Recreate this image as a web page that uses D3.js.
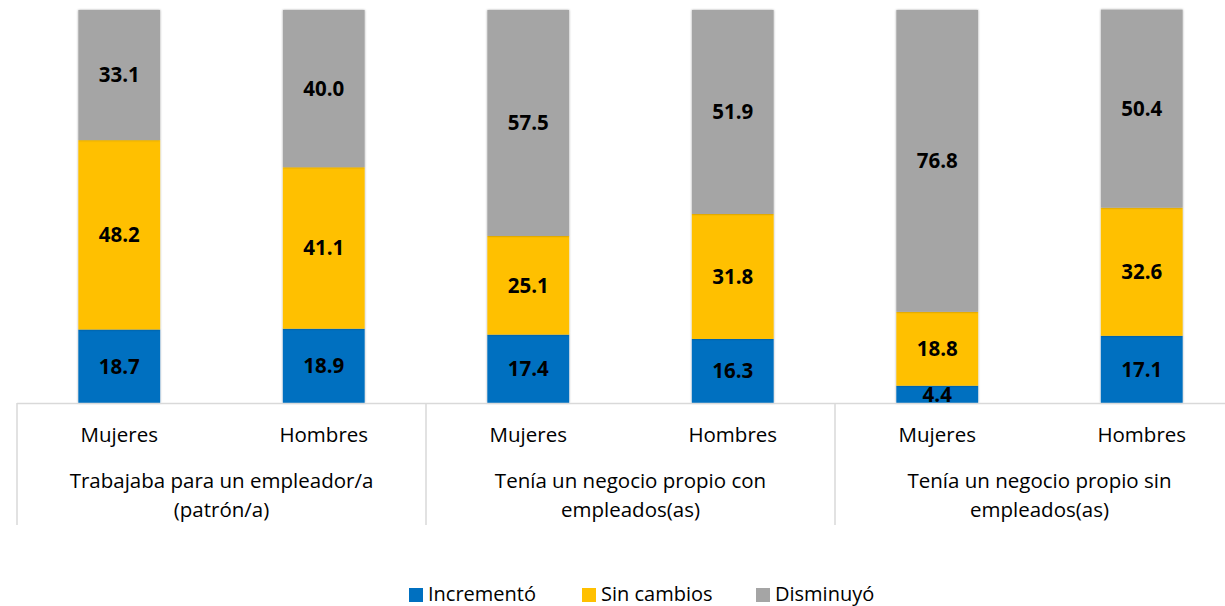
<!DOCTYPE html>
<meta charset="utf-8">
<script src="https://d3js.org/d3.v7.min.js"></script>
<style>
  body { margin: 0; background: #fff; }
  text { font-family: "Open Sans", "Noto Sans", sans-serif; }
</style>
<body>
<div id="my_dataviz"></div>
<script>
// data
var groups = ["Trabajaba para un empleador/a|(patrón/a)",
              "Tenía un negocio propio con|empleados(as)",
              "Tenía un negocio propio sin|empleados(as)"];
var sexes = ["Mujeres", "Hombres"];
var seriesNames = ["Incrementó", "Sin cambios", "Disminuyó"];
var colors = ["#0070C0", "#FFC000", "#A5A5A5"];
var incremento = [18.7, 18.9, 17.4, 16.3, 4.4, 17.1];
var sinCambios = [48.2, 41.1, 25.1, 31.8, 18.8, 32.6];
var disminuyo  = [33.1, 40.0, 57.5, 51.9, 76.8, 50.4];

var width = 1225, height = 606;
var svg = d3.select("#my_dataviz").append("svg")
  .attr("width", width).attr("height", height);

var defs = svg.append("defs");
var f = defs.append("filter").attr("id", "shadow")
  .attr("x", "-10%").attr("y", "-10%").attr("width", "120%").attr("height", "120%");
f.append("feDropShadow").attr("dx", 0).attr("dy", 0).attr("stdDeviation", 1.2)
  .attr("flood-color", "#000").attr("flood-opacity", 0.35);

// build rows
var rows = [];
groups.forEach(function(g, gi) {
  sexes.forEach(function(s, si) {
    var i = gi * 2 + si;
    rows.push({group: g, sex: s,
      "Incrementó": incremento[i], "Sin cambios": sinCambios[i], "Disminuyó": disminuyo[i]});
  });
});

var x0 = d3.scaleBand().domain(groups).range([17, 1244]);
var x1 = d3.scaleBand().domain(sexes).range([0, x0.bandwidth()]).paddingInner(0.6).paddingOuter(0.3);
var y = d3.scaleLinear().domain([0, 100]).range([403, 10]);

var stacked = d3.stack().keys(seriesNames)(rows);

var layers = svg.append("g").selectAll("g")
  .data(stacked).enter().append("g")
  .attr("fill", function(d, i) { return colors[i]; });

layers.selectAll("rect")
  .data(function(d) { return d; })
  .enter().append("rect")
  .attr("x", function(d) { return x0(d.data.group) + x1(d.data.sex); })
  .attr("y", function(d) { return y(d[1]); })
  .attr("width", x1.bandwidth())
  .attr("height", function(d) { return y(d[0]) - y(d[1]); })
  .attr("filter", "url(#shadow)");

// labels
layers.selectAll("text")
  .data(function(d) { return d; })
  .enter().append("text")
  .attr("x", function(d) { return x0(d.data.group) + x1(d.data.sex) + x1.bandwidth() / 2; })
  .attr("y", function(d) { return (y(d[0]) + y(d[1])) / 2; })
  .attr("dy", "0.36em")
  .attr("text-anchor", "middle")
  .attr("fill", "#000")
  .attr("font-weight", "bold")
  .attr("font-size", "20.5px")
  .text(function(d) { return (d[1] - d[0]).toFixed(1); });

// axis
var axis = svg.append("g");
axis.append("line").attr("x1", x0.range()[0]).attr("x2", x0.range()[1])
  .attr("y1", y(0) + 0.5).attr("y2", y(0) + 0.5)
  .attr("stroke", "#D9D9D9").attr("stroke-width", 1.5);
groups.concat(["end"]).forEach(function(g, i) {
  var xx = i < groups.length ? x0(g) : x0.range()[1];
  axis.append("line").attr("x1", xx).attr("x2", xx)
    .attr("y1", y(0)).attr("y2", 525)
    .attr("stroke", "#D9D9D9").attr("stroke-width", 1.5);
});

rows.forEach(function(r) {
  axis.append("text")
    .attr("x", x0(r.group) + x1(r.sex) + x1.bandwidth() / 2)
    .attr("y", 442)
    .attr("text-anchor", "middle")
    .attr("font-size", "20.5px").attr("fill", "#000")
    .text(r.sex);
});

groups.forEach(function(g) {
  var cx = x0(g) + x0.bandwidth() / 2;
  var t = axis.append("text")
    .attr("x", cx)
    .attr("y", 488)
    .attr("text-anchor", "middle")
    .attr("font-size", "20.5px").attr("fill", "#000");
  g.split("|").forEach(function(line, li) {
    t.append("tspan").attr("x", cx)
      .attr("dy", li === 0 ? 0 : 29).text(line);
  });
});

// legend
var legendX = [409, 582, 756];
var legend = svg.append("g");
seriesNames.forEach(function(n, i) {
  legend.append("rect").attr("x", legendX[i]).attr("y", 588)
    .attr("width", 14).attr("height", 14).attr("fill", colors[i]);
  legend.append("text").attr("x", legendX[i] + 19).attr("y", 601)
    .attr("font-size", "20px").attr("fill", "#000").text(n);
});
</script>
</body>
